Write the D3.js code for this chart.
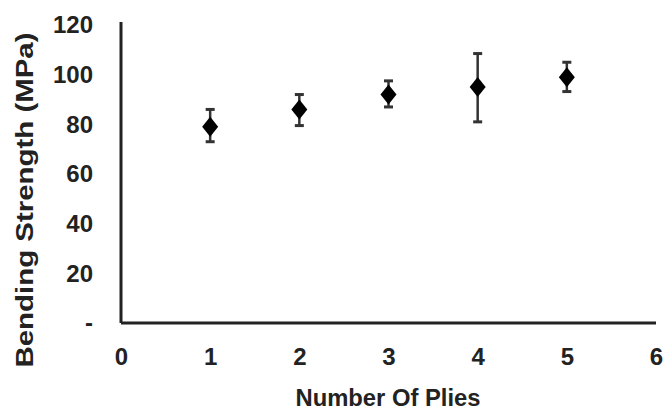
<!DOCTYPE html>
<html>
<head>
<meta charset="utf-8">
<script src="https://cdn.jsdelivr.net/npm/d3@7"></script>
<style>
  html, body { margin: 0; padding: 0; background: #fff; }
  text { font-family: "Liberation Sans", Arial, sans-serif; font-weight: bold; fill: #222; }
</style>
</head>
<body>
<svg id="chart" width="664" height="410"></svg>
<script>
// ---- data ----
const plies = [1, 2, 3, 4, 5];
const strength = [79, 86, 92, 95, 99];
const errUp = [7, 6, 5.5, 13.5, 6];
const errDown = [6, 6.5, 5, 14, 5.8];
const xTicks = [0, 1, 2, 3, 4, 5, 6];
const yTicks = [0, 20, 40, 60, 80, 100, 120];
const yTickLabels = ["-", "20", "40", "60", "80", "100", "120"];
const xTitle = "Number Of Plies";
const yTitle = "Bending Strength (MPa)";

const svg = d3.select("#chart");
const margin = { left: 121, right: 8, top: 25, bottom: 87 };
const W = 664, H = 410;

const x = d3.scaleLinear().domain([0, 6]).range([margin.left, W - margin.right]);
const y = d3.scaleLinear().domain([0, 120]).range([H - margin.bottom, margin.top]);

// axes
const xAxis = d3.axisBottom(x).tickValues(xTicks).tickSize(0).tickPadding(25).tickFormat(d3.format("d"));
const gx = svg.append("g").attr("transform", `translate(0,${y(0)})`).call(xAxis);
gx.select(".domain").attr("stroke", "#222").attr("stroke-width", 3).attr("d", `M${x(0)},0H${x(6)}`);
gx.selectAll("text").style("font-size", "24px").attr("fill", "#222");

const yAxis = d3.axisLeft(y).tickValues(yTicks).tickSize(0).tickPadding(28)
  .tickFormat((d, i) => yTickLabels[i]);
const gy = svg.append("g").attr("transform", `translate(${x(0)},0)`).call(yAxis);
gy.select(".domain").attr("stroke", "#222").attr("stroke-width", 3).attr("d", `M0,${y(0)}V${y(120) - 3}`);
gy.selectAll("text").style("font-size", "24px").attr("fill", "#222");

// titles
svg.append("text").attr("x", 388).attr("y", 406).attr("text-anchor", "middle")
  .attr("textLength", 185).attr("lengthAdjust", "spacingAndGlyphs")
  .style("font-size", "24px").text(xTitle);
svg.append("text").attr("transform", `translate(33,${200}) rotate(-90)`).attr("text-anchor", "middle")
  .attr("textLength", 335).attr("lengthAdjust", "spacingAndGlyphs")
  .style("font-size", "24px").text(yTitle);

// error bars
const data = plies.map((p, i) => ({ p, v: strength[i], up: errUp[i], down: errDown[i] }));
const eb = svg.append("g").attr("stroke", "#333").attr("stroke-width", 2.5);
data.forEach(d => {
  const cx = x(d.p);
  eb.append("line").attr("x1", cx).attr("x2", cx).attr("y1", y(d.v + d.up)).attr("y2", y(d.v - d.down));
  eb.append("line").attr("x1", cx - 4.5).attr("x2", cx + 4.5).attr("y1", y(d.v + d.up)).attr("y2", y(d.v + d.up)).attr("stroke-width", 3);
  eb.append("line").attr("x1", cx - 4.5).attr("x2", cx + 4.5).attr("y1", y(d.v - d.down)).attr("y2", y(d.v - d.down)).attr("stroke-width", 3);
});

// diamonds
svg.append("g").selectAll("path").data(data).join("path")
  .attr("transform", d => `translate(${x(d.p)},${y(d.v)})`)
  .attr("d", "M0,-10L8,0L0,10L-8,0Z")
  .attr("fill", "#000");
</script>
</body>
</html>
